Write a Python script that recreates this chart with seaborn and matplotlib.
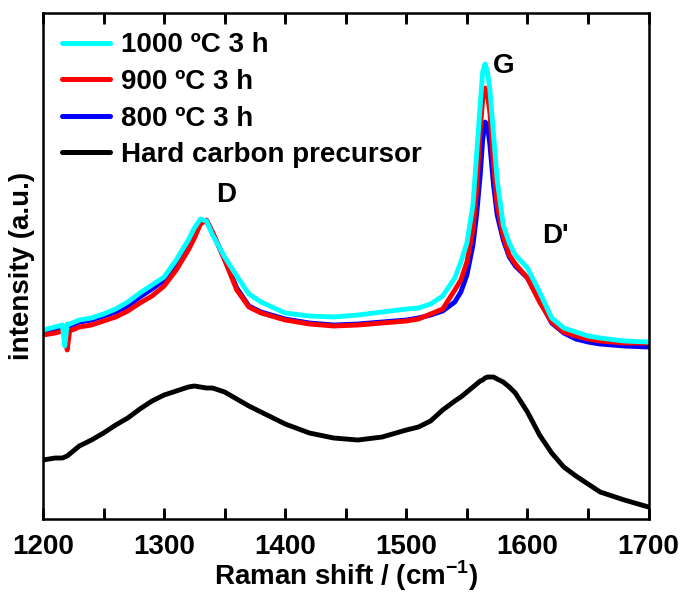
import matplotlib
matplotlib.use('Agg')
import matplotlib.pyplot as plt
from matplotlib.ticker import MultipleLocator
import numpy as np
import pandas as pd
import seaborn as sns

# Raman shift grid (cm-1)
shift = [1200, 1210, 1216, 1218, 1220, 1222, 1230, 1240, 1250, 1260, 1270, 1280,
         1290, 1300, 1310, 1320, 1325, 1330, 1335, 1340, 1350, 1360, 1370, 1380,
         1400, 1420, 1440, 1460, 1480, 1500, 1510, 1520, 1530, 1540, 1545, 1550,
         1555, 1558, 1561, 1563, 1565, 1567, 1569, 1572, 1575, 1580, 1585, 1590,
         1600, 1610, 1620, 1630, 1640, 1650, 1660, 1680, 1700]

# intensities (a.u.), same order as shift
i_1000 = [189, 192, 194, 173, 195, 195, 199, 201, 205, 210, 217, 226,
          234, 242, 259, 279, 291, 300, 298, 284, 262, 243, 225, 217,
          206, 203, 202, 204, 207, 210, 211, 215, 223, 241, 257, 276,
          314, 364, 414, 447, 455, 447, 429, 384, 339, 294, 276, 264,
          251, 227, 201, 191, 187, 183, 181, 178, 177]
i_900 = [184, 186, 188, 189, 169, 188, 192, 194, 198, 202, 208, 216,
         223, 233, 249, 269, 281, 295, 299, 287, 259, 229, 212, 206,
         199, 195, 193, 194, 196, 198, 200, 205, 210, 229, 239, 257,
         289, 329, 389, 419, 431, 424, 406, 354, 314, 283, 264, 255,
         241, 217, 197, 187, 183, 180, 178, 176, 176]
i_800 = [188, 190, 192, 192, 193, 193, 197, 199, 203, 207, 213, 222,
         230, 239, 255, 275, 287, 297, 298, 286, 260, 231, 213, 207,
         200, 196, 194, 195, 197, 199, 201, 204, 208, 217, 227, 244,
         274, 304, 344, 379, 397, 394, 374, 334, 304, 279, 262, 253,
         241, 219, 196, 186, 180, 177, 175, 173, 172]
i_precursor = [59, 61, 61, 62, 63, 65, 73, 79, 86, 94, 101, 110,
               118, 124, 128, 132, 133, 132, 131, 131, 127, 120, 113, 107,
               95, 86, 81, 79, 82, 89, 92, 98, 109, 118, 122, 127,
               132, 135, 138, 139, 141, 142, 142, 142, 140, 137, 132, 126,
               107, 84, 66, 52, 43, 35, 27, 19, 12]

labels = ['1000 ºC 3 h', '900 ºC 3 h', '800 ºC 3 h', 'Hard carbon precursor']
colors = ['#00FFFF', '#FF0000', '#0000FF', '#000000']

df = pd.concat([
    pd.DataFrame({'shift': shift, 'intensity': vals, 'sample': lab})
    for vals, lab in zip([i_1000, i_900, i_800, i_precursor], labels)
])

sns.set_style('ticks')
plt.rcParams.update({
    'font.family': ['Liberation Sans', 'DejaVu Sans'],
    'font.weight': 'bold',
    'text.color': 'black',
    'axes.labelcolor': 'black',
    'xtick.color': 'black',
    'mathtext.fontset': 'custom',
    'mathtext.bf': 'Liberation Sans:bold',
    'mathtext.rm': 'Liberation Sans:bold',
})

fig = plt.figure(figsize=(6.8, 5.92), dpi=100)
ax = fig.add_axes([0.0632, 0.1233, 0.8906, 0.8547])

# draw precursor first, cyan last (on top)
draw_order = labels[::-1]
sns.lineplot(data=df, x='shift', y='intensity', hue='sample', hue_order=draw_order,
             palette=dict(zip(labels, colors)), estimator=None, linewidth=3.5, ax=ax,
             legend=False)

for lab, col in zip(labels, colors):
    ax.plot([], [], color=col, lw=3.6, label=lab)
ax.legend(loc='upper left', frameon=False, fontsize=20, handlelength=1.7,
          handletextpad=0.4, labelspacing=0.38, borderaxespad=0.3, borderpad=0.4)

ax.text(1351, 324, 'D', fontsize=20, fontweight='bold', ha='center', va='center')
ax.text(1580, 453, 'G', fontsize=20, fontweight='bold', ha='center', va='center')
ax.text(1623, 283, "D'", fontsize=20, fontweight='bold', ha='center', va='center')

ax.set_xlim(1200, 1700)
ax.set_ylim(0, 506)
ax.set_yticks([])
for s in ax.spines.values():
    s.set_visible(True)
    s.set_linewidth(1.8)
    s.set_color('black')

ax.set_xlabel('Raman shift / (cm$^{\\mathbf{-1}}$)', fontsize=20, fontweight='bold', va='baseline')
ax.xaxis.set_label_coords(0.5, -0.1304)
ax.set_ylabel('intensity (a.u.)', fontsize=20, fontweight='bold', labelpad=6)

ax.xaxis.set_major_locator(MultipleLocator(100))
ax.xaxis.set_minor_locator(MultipleLocator(50))
ax.tick_params(axis='x', which='both', direction='in', top=True, bottom=True,
               length=8, width=2, color='black')
ax.tick_params(axis='x', which='major', labelsize=20, pad=11)

# inward tick marks on top and bottom, drawn explicitly as a backup
tick_pos = ax.xaxis.get_majorticklocs().tolist() + ax.xaxis.get_minorticklocs().tolist()
xt = ax.get_xaxis_transform()
ax.vlines(tick_pos, 0, 0.016, transform=xt, color='black', lw=2, clip_on=False, zorder=5)
ax.vlines(tick_pos, 0.984, 1, transform=xt, color='black', lw=2, clip_on=False, zorder=5)

fig.savefig('out.png', dpi=100)
